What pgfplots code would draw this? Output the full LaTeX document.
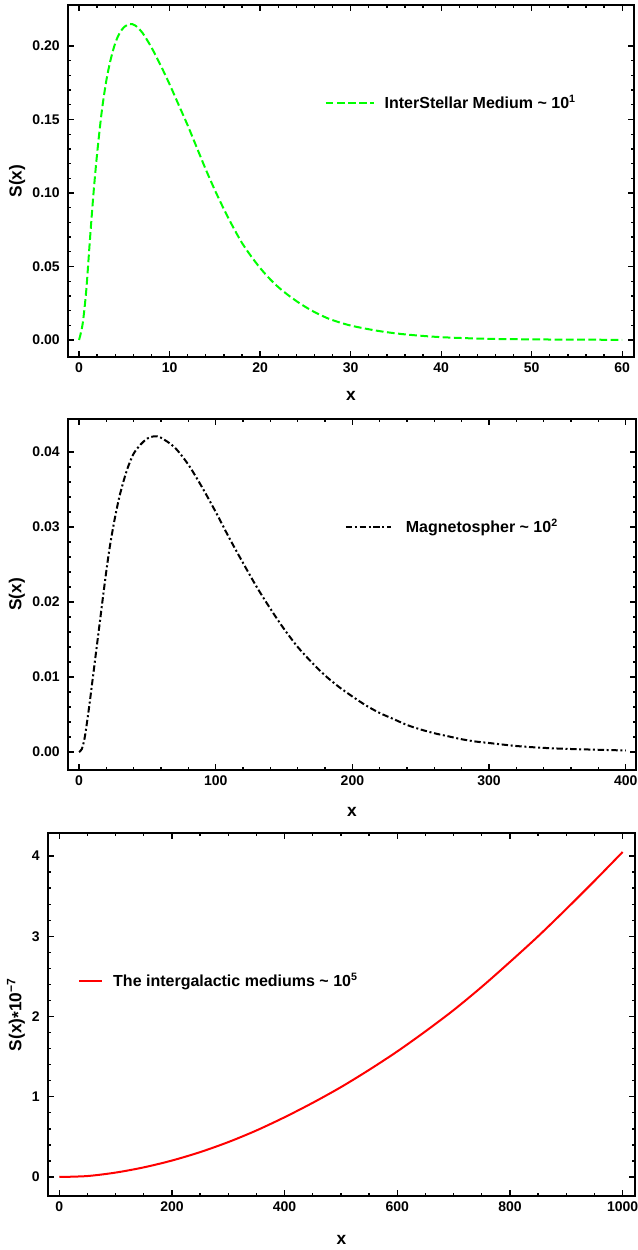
\documentclass[border=0pt]{standalone}
\usepackage{fontspec}
\setmainfont{Liberation Sans}
\usepackage{pgfplots}
\pgfplotsset{compat=1.18}

\definecolor{mgreen}{RGB}{0,255,0}
\definecolor{mred}{RGB}{255,0,0}

% Mathematica-like framed panel
\pgfplotsset{
  mma/.style={
    scale only axis,
    anchor=north west,
    axis line style={line width=1.6pt},
    every tick/.style={black, line width=1pt},
    major tick length=4.5pt, minor tick length=2.6pt,
    tick align=inside,
    scaled ticks=false,
    /pgf/number format/assume math mode=true,
    /pgf/number format/1000 sep={},
    tick label style={font=\bfseries\fontsize{10.5}{12}\selectfont},
    label style={font=\bfseries\fontsize{13}{15}\selectfont},
    xticklabel style={inner sep=0pt, anchor=north, yshift=-4pt},
    yticklabel style={inner sep=0pt, anchor=east, xshift=-6pt},
    legend style={draw=none, fill=none, inner sep=0pt, nodes={inner sep=0pt},
      anchor=west, font=\bfseries\fontsize{12}{14}\selectfont},
    legend cell align=left,
  },
  twodec/.style={yticklabel style={/pgf/number format/fixed,
      /pgf/number format/fixed zerofill, /pgf/number format/precision=2}},
}

\begin{document}
\begin{tikzpicture}
\path[use as bounding box] (0,0) rectangle (478.5pt,-937.5pt);

% ---- panel 1
\begin{axis}[mma, twodec,
  at={(51pt,-3.75pt)}, width=424.5pt, height=264pt,
  xmin=-1.22, xmax=61.3, ymin=-0.0116, ymax=0.2279,
  xtick={0,10,...,60}, ytick={0,0.05,0.1,0.15,0.2},
  minor x tick num=4, minor y tick num=4,
  xlabel={x}, ylabel={S(x)},
  xlabel style={at={(axis description cs:0.5,-0.111)}, anchor=center},
  ylabel style={at={(axis description cs:-0.090,0.5)}, anchor=center},
  legend style={at={(axis description cs:0.453,0.722)}},
  legend image code/.code={\draw[#1] (0pt,0pt) -- (36pt,0pt); \path (43.5pt,0pt);},
]
\addplot[mgreen, line width=1.5pt, dash pattern=on 5.8pt off 2.6pt, smooth] coordinates {
  (0,0) (0.4,0.011) (0.8,0.034) (1.2,0.068) (1.6,0.100) (2.0,0.127) (2.5,0.155)
  (3.0,0.176) (3.5,0.191) (4.0,0.202) (4.5,0.209) (5.0,0.213) (5.6,0.215)
  (6.2,0.214) (7.0,0.209) (8.0,0.199) (9.0,0.187) (10,0.174) (11,0.160) (12,0.146)
  (13,0.131) (14,0.116) (15,0.102) (16,0.089) (17,0.077) (18,0.066) (19,0.057)
  (20,0.049) (21,0.042) (22,0.036) (23,0.031) (24,0.0265) (25,0.0225) (26,0.019)
  (27,0.016) (28,0.0135) (30,0.0098) (33,0.0062) (36,0.0038) (40,0.0019)
  (45,0.0008) (50,0.0004) (55,0.0002) (60,0.0001)
};
\addlegendentry{InterStellar Medium \textasciitilde{} 10\textsuperscript{1}}
\end{axis}

% ---- panel 2
\begin{axis}[mma, twodec,
  at={(51pt,-314.25pt)}, width=426pt, height=263.25pt,
  xmin=-8.1, xmax=407.5, ymin=-0.0024, ymax=0.0444,
  xtick={0,100,...,400}, ytick={0,0.01,0.02,0.03,0.04},
  minor x tick num=4, minor y tick num=4,
  xlabel={x}, ylabel={S(x)},
  xlabel style={at={(axis description cs:0.5,-0.120)}, anchor=center},
  ylabel style={at={(axis description cs:-0.090,0.5)}, anchor=center},
  legend style={at={(axis description cs:0.487,0.692)}},
  legend image code/.code={\draw[#1] (0pt,0pt) -- (33.75pt,0pt); \path (44.25pt,0pt);},
]
\addplot[black, line width=1.5pt, dash pattern=on 4.8pt off 2pt on 1.5pt off 2pt, smooth] coordinates {
  (0,0) (2,0.0004) (4,0.0018) (6,0.0042) (8,0.0069) (10,0.0098) (12,0.0127)
  (14,0.0156) (16,0.0185) (18,0.0214) (20,0.0242) (22,0.0268) (24,0.0290)
  (26,0.0310) (28,0.0328) (30,0.0344) (33,0.0364) (36,0.0381) (40,0.0398)
  (45,0.0410) (50,0.0418) (55,0.0421) (60,0.0419) (70,0.0406) (80,0.0383)
  (90,0.0353) (100,0.0320) (110,0.0285) (120,0.0252) (130,0.0220) (140,0.0191)
  (150,0.0164) (160,0.0140) (170,0.0120) (180,0.0102) (190,0.0087) (200,0.0074)
  (210,0.0062) (220,0.0052) (230,0.0044) (240,0.0036) (250,0.0030) (260,0.0025)
  (270,0.0021) (280,0.0017) (290,0.0014) (300,0.0012) (320,0.0008) (340,0.00055)
  (360,0.0004) (380,0.0003) (400,0.0002)
};
\addlegendentry{Magnetospher \textasciitilde{} 10\textsuperscript{2}}
\end{axis}

% ---- panel 3
\begin{axis}[mma,
  at={(36pt,-624.75pt)}, width=440.25pt, height=272.25pt,
  xmin=-20, xmax=1022, ymin=-0.237, ymax=4.287,
  xtick={0,200,...,1000}, ytick={0,1,2,3,4},
  minor x tick num=3, minor y tick num=4,
  xlabel={x}, ylabel={S(x)\raisebox{-0.3ex}{*}10\textsuperscript{−7}},
  xlabel style={at={(axis description cs:0.5,-0.121)}, anchor=center},
  ylabel style={at={(axis description cs:-0.0545,0.5)}, anchor=center},
  legend style={at={(axis description cs:0.051,0.592)}},
  legend image code/.code={\draw[#1] (0pt,0pt) -- (17.25pt,0pt); \path (24.75pt,0pt);},
]
\addplot[mred, line width=1.5pt, smooth] coordinates {
  (0,0) (50,0.012) (100,0.055) (150,0.120) (200,0.205) (250,0.310) (300,0.435)
  (350,0.580) (400,0.745) (450,0.925) (500,1.120) (550,1.335) (600,1.565)
  (650,1.815) (700,2.080) (750,2.370) (800,2.680) (850,3.000) (900,3.340)
  (950,3.690) (1000,4.050)
};
\addlegendentry{The intergalactic mediums \textasciitilde{} 10\textsuperscript{5}}
\end{axis}
\end{tikzpicture}
\end{document}
